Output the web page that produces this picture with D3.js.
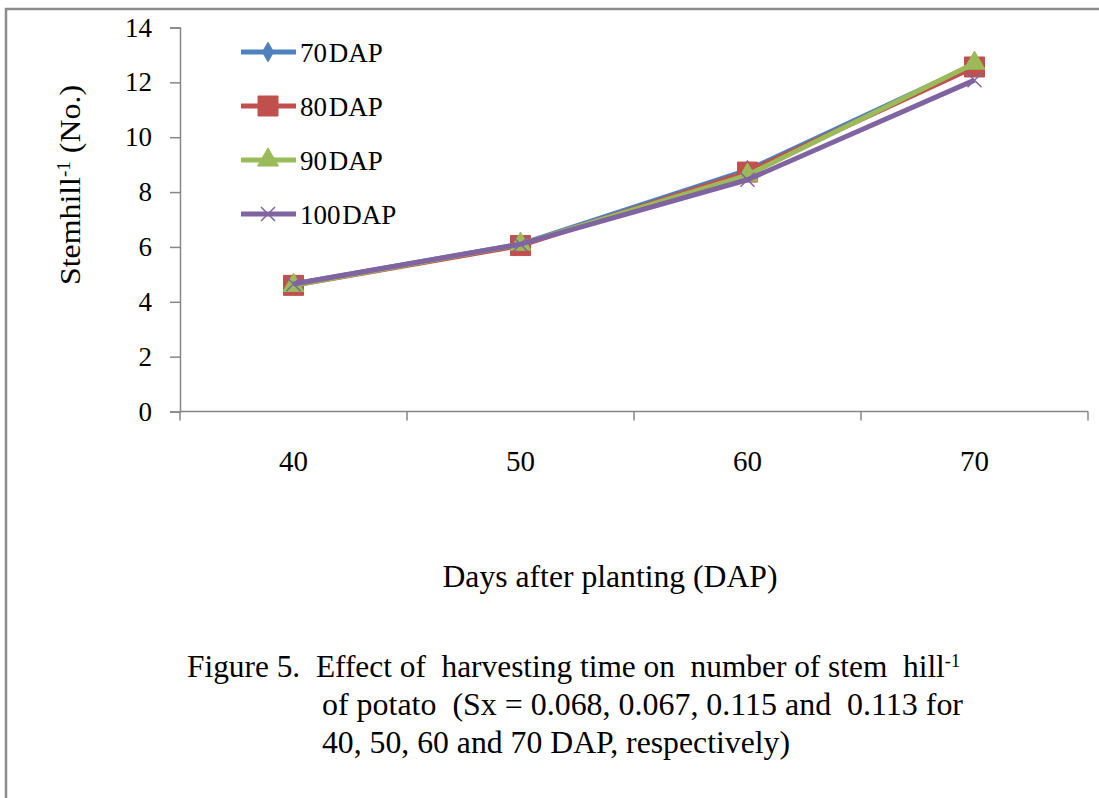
<!DOCTYPE html>
<html>
<head>
<meta charset="utf-8">
<style>
    body { margin: 0; background: #fff; }
    svg { display: block; font-family: 'Liberation Serif', 'Times New Roman', serif; }
</style>
</head>
<body>
<svg width="1099" height="798"></svg>

<script src="https://d3js.org/d3.v7.min.js"></script>
<script>

    // values
    let days = ["40", "50", "60", "70"];
    let seriesNames = ["70 DAP", "80 DAP", "90 DAP", "100 DAP"];
    let dap70 = [4.65, 6.1, 8.8, 12.65];
    let dap80 = [4.6, 6.05, 8.73, 12.56];
    let dap90 = [4.6, 6.1, 8.62, 12.7];
    let dap100 = [4.65, 6.1, 8.45, 12.08];
    let yTicks = [0, 2, 4, 6, 8, 10, 12, 14];

    let colors = ["#4f81bd", "#c0504d", "#9bbb59", "#8064a2"];
    let shapes = ["diamond", "square", "triangle", "x"];
    let allSeries = [dap70, dap80, dap90, dap100];

    let svg = d3.select("svg");

    // outer frame
    svg.append("path")
        .attr("d", "M6,1000 V9 H1200")
        .style("fill", "none")
        .style("stroke", "#8c8c8c")
        .style("stroke-width", 2.5);

    let plotLeft = 180, plotRight = 1088, plotTop = 27.5, plotBottom = 411.5;

    let x = d3.scalePoint().domain(days).range([plotLeft, plotRight]).padding(0.5);
    let y = d3.scaleLinear().domain([0, 14]).range([plotBottom, plotTop]);

    // y axis
    let yAxis = svg.append("g")
        .attr("transform", "translate(" + plotLeft + ",0)")
        .call(d3.axisLeft(y).tickValues(yTicks).tickSize(10).tickPadding(18));
    yAxis.select(".domain").attr("stroke", "#868686").attr("stroke-width", 1.5);
    yAxis.selectAll(".tick line").attr("stroke", "#868686").attr("stroke-width", 1.5);
    yAxis.selectAll(".tick text")
        .style("font-family", "'Liberation Serif', serif")
        .style("font-size", "27px")
        .attr("fill", "#000");

    // x axis: boundaries between categories
    let step = x.step();
    let bounds = d3.range(days.length + 1).map(i => plotLeft + i * step);
    svg.append("line")
        .attr("x1", plotLeft).attr("x2", plotRight)
        .attr("y1", plotBottom).attr("y2", plotBottom)
        .style("stroke", "#868686").style("stroke-width", 1.5);
    svg.selectAll(".xtick")
        .data(bounds)
        .join("line")
        .attr("x1", d => d).attr("x2", d => d)
        .attr("y1", plotBottom).attr("y2", plotBottom + 9)
        .style("stroke", "#868686").style("stroke-width", 1.5);
    svg.selectAll(".xlabel")
        .data(days)
        .join("text")
        .attr("x", d => x(d))
        .attr("y", 471)
        .attr("text-anchor", "middle")
        .style("font-size", "29px")
        .text(d => d);

    // axis titles
    svg.append("text")
        .attr("x", 610).attr("y", 587)
        .attr("text-anchor", "middle")
        .attr("textLength", 335)
        .attr("lengthAdjust", "spacingAndGlyphs")
        .style("font-size", "31px")
        .text("Days after planting (DAP)");

    let yt = svg.append("text")
        .attr("transform", "translate(80,185) rotate(-90)")
        .attr("text-anchor", "middle")
        .attr("textLength", 200)
        .attr("lengthAdjust", "spacingAndGlyphs")
        .style("font-size", "30px");
    yt.append("tspan").text("Stemhill");
    yt.append("tspan").attr("dy", -10).style("font-size", "18px").text("-1");
    yt.append("tspan").attr("dy", 10).text(" (No.)");

    // marker paths
    function marker(shape) {
        if (shape == "diamond") return d3.symbol(d3.symbolDiamond, 110)();
        if (shape == "square") return d3.symbol(d3.symbolSquare, 400)();
        if (shape == "triangle") return d3.symbol(d3.symbolTriangle, 190)();
        return "M-7,-7L7,7M-7,7L7,-7";
    }

    let line = d3.line()
        .x((d, i) => x(days[i]))
        .y(d => y(d));

    allSeries.forEach(function (values, k) {
        let g = svg.append("g");
        g.append("path")
            .attr("d", line(values))
            .style("fill", "none")
            .style("stroke", colors[k])
            .style("stroke-width", 5)
            .style("stroke-linejoin", "round");
        g.selectAll("path.m")
            .data(values)
            .join("path")
            .attr("class", "m")
            .attr("d", marker(shapes[k]))
            .attr("transform", (d, i) => "translate(" + x(days[i]) + "," + y(d) + ")")
            .style("fill", shapes[k] == "x" ? "none" : colors[k])
            .style("stroke", colors[k])
            .style("stroke-width", shapes[k] == "x" ? 1.5 : 1);
    });

    // legend
    let legend = svg.selectAll(".legend")
        .data(seriesNames)
        .join("g")
        .attr("transform", (d, i) => "translate(0," + (52 + i * 54) + ")");
    legend.append("line")
        .attr("x1", 241).attr("x2", 296)
        .style("stroke", (d, i) => colors[i])
        .style("stroke-width", 5);
    legend.append("path")
        .attr("d", (d, i) => marker(shapes[i]))
        .attr("transform", "translate(268,0)")
        .style("fill", (d, i) => shapes[i] == "x" ? "none" : colors[i])
        .style("stroke", (d, i) => colors[i])
        .style("stroke-width", (d, i) => shapes[i] == "x" ? 1.5 : 1);
    legend.append("text")
        .attr("x", 300).attr("y", 10)
        .style("font-size", "27px")
        .style("word-spacing", "-5px")
        .text(d => d);

    // caption (double spaces kept as in the original)
    let cap = svg.append("g").style("font-size", "31px");
    let c1 = cap.append("text").attr("x", 187).attr("y", 677)
        .attr("xml:space", "preserve")
        .attr("textLength", 773).attr("lengthAdjust", "spacingAndGlyphs");
    c1.append("tspan").text("Figure 5.  Effect of  harvesting time on  number of stem  hill");
    c1.append("tspan").attr("dy", -10).style("font-size", "18px").text("-1");
    cap.append("text").attr("x", 322).attr("y", 715)
        .attr("xml:space", "preserve")
        .attr("textLength", 641).attr("lengthAdjust", "spacingAndGlyphs")
        .text("of potato  (Sx = 0.068, 0.067, 0.115 and  0.113 for");
    cap.append("text").attr("x", 322).attr("y", 753)
        .attr("textLength", 468).attr("lengthAdjust", "spacingAndGlyphs")
        .text("40, 50, 60 and 70 DAP, respectively)");

</script>
</body>
</html>
